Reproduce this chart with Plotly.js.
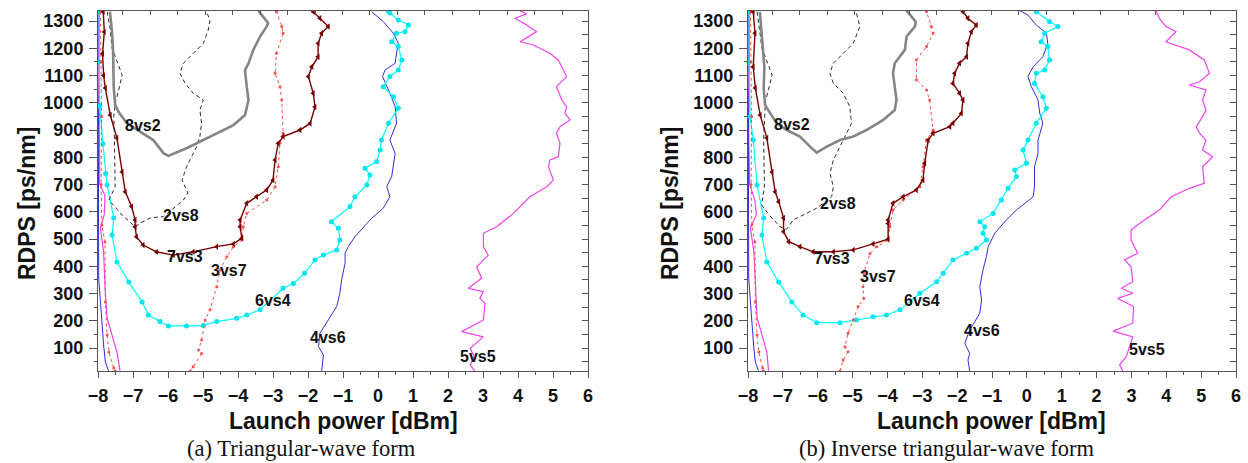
<!DOCTYPE html>
<html>
<head>
<meta charset="utf-8">
<script src="https://cdn.plot.ly/plotly-3.0.1.min.js"></script>
<style>html,body{margin:0;padding:0;background:#fff;}#chart{width:1248px;height:463px;}</style>
</head>
<body>
<div id="chart"></div>
<script>
// ---------- Panel (a): Triangular-wave form ----------
const a_8vs2_x = [-7.66,-7.62,-7.6,-7.57,-7.55,-7.52,-7.51,-7.41,-7.18,-6.8,-6.42,-6.13,-5.99,-5.47,-5.09,-4.61,-4.13,-3.8,-3.7,-3.75,-3.8,-3.7,-3.56,-3.37,-3.18,-3.14,-3.28,-3.42];
const a_8vs2_y = [1334,1290,1260,1194,1054,1010,992,966,926,894,863,815,805,833,857,888,918,955,1010,1059,1120,1145,1194,1243,1280,1293,1317,1338];

const a_2vs8_x = [-7.74,-7.65,-7.6,-7.45,-7.31,-7.42,-7.5,-7.55,-7.53,-7.51,-7.69,-7.31,-6.93,-6.79,-6.51,-6.32,-6.13,-5.56,-5.43,-5.6,-5.47,-5.18,-5.09,-5.04,-5.09,-4.99,-5.28,-5.51,-5.66,-5.56,-5.28,-4.99,-4.85,-4.8,-4.9];
const a_2vs8_y = [1334,1270,1201,1150,1102,1040,1004,950,870,690,643,588,544,559,577,580,582,643,669,716,765,839,876,925,973,1010,1035,1071,1108,1145,1182,1218,1267,1304,1334];

const a_7vs3_x = [-7.85,-7.82,-7.87,-7.84,-7.79,-7.65,-7.46,-7.31,-7.22,-7.04,-6.94,-6.94,-6.9,-6.71,-6.33,-5.85,-5.28,-4.61,-4.13,-3.89,-3.94,-3.94,-3.75,-3.47,-3.18,-3.0,-2.94,-2.85,-2.71,-2.23,-1.94,-1.8,-1.85,-1.99,-1.89,-1.71,-1.71,-1.61,-1.42,-1.66,-1.85];
const a_7vs3_y = [1334,1260,1180,1100,1054,955,871,746,673,619,570,545,508,478,453,441,453,472,482,503,545,570,631,655,680,716,790,851,876,900,924,985,1035,1096,1132,1169,1218,1255,1280,1310,1334];

const a_3vs7_left_x = [-7.93,-7.92,-7.9,-7.91,-7.89,-7.8,-7.79,-7.74,-7.69,-7.55,-7.51];
const a_3vs7_left_y = [1334,1150,950,700,551,489,269,148,85,27,16];
const a_3vs7_right_x = [-5.37,-5.28,-5.04,-5.13,-5.04,-4.94,-4.8,-4.61,-4.51,-4.32,-4.13,-3.89,-3.85,-3.75,-3.18,-2.94,-2.85,-2.8,-2.71,-2.75,-2.8,-2.94,-2.9,-2.71,-2.75,-2.9];
const a_3vs7_right_y = [16,31,80,93,129,203,240,325,386,435,472,496,545,594,643,692,765,851,888,1010,1059,1108,1182,1255,1280,1334];

const a_6vs4_x = [-7.97,-7.97,-7.95,-7.86,-7.78,-7.74,-7.55,-7.6,-7.46,-7.12,-6.74,-6.56,-6.23,-5.99,-5.47,-4.99,-4.61,-4.04,-3.75,-3.37,-2.71,-2.42,-2.1,-1.8,-1.56,-1.18,-1.09,-1.13,-1.33,-0.8,-0.66,-0.32,-0.23,-0.37,-0.04,0.06,0.1,0.3,0.58,0.44,0.15,0.34,0.58,0.68,0.58,0.39,0.53,0.77,0.87,0.58,0.34,0.29];
const a_6vs4_y = [1334,1150,990,850,740,698,577,515,416,342,269,221,197,181,181,183,197,209,221,240,319,337,374,423,441,460,496,539,563,619,655,698,735,760,784,827,863,925,980,1022,1059,1096,1120,1157,1206,1224,1255,1261,1285,1304,1329,1337];

const a_4vs6_left_x = [-7.97,-7.96,-7.99,-7.99,-7.98,-7.93,-7.89,-7.84,-7.79,-7.7];
const a_4vs6_left_y = [1334,1100,900,600,357,269,184,111,49,16];
const a_4vs6_right_x = [-1.61,-1.56,-1.7,-1.66,-1.42,-1.18,-1.09,-1.04,-0.94,-0.94,-0.85,-0.66,-0.32,-0.18,0.15,0.34,0.25,0.39,0.49,0.34,0.53,0.49,0.3,0.13,0.2,0.49,0.53,0.58,0.44,0.15,-0.18];
const a_4vs6_right_y = [16,74,105,154,203,252,301,350,411,448,472,508,557,576,613,655,692,729,814,863,925,986,1047,1096,1120,1145,1182,1218,1255,1298,1334];

const a_5vs5_left_x = [-7.99,-7.98,-7.97,-7.95,-7.8,-7.82,-7.93,-7.84,-7.8,-7.74,-7.6,-7.46,-7.37];
const a_5vs5_left_y = [1334,1000,870,700,660,590,540,452,325,210,148,85,16];
const a_5vs5_right_x = [2.77,2.63,2.75,2.63,3.01,2.39,3.01,3.06,2.91,3.01,2.58,2.96,2.82,3.15,3.01,3.01,3.39,3.87,4.34,4.82,5.01,4.87,4.91,5.15,5.2,5.1,5.2,5.49,5.34,5.39,5.25,5.15,5.1,5.39,5.15,4.91,4.44,4.06,4.53,4.25,3.91,4.25,4.06];
const a_5vs5_right_y = [16,38,70,99,141,160,203,264,282,307,319,356,398,441,472,521,545,594,655,692,716,765,790,802,851,888,912,937,961,986,1010,1047,1059,1096,1157,1182,1212,1224,1261,1285,1310,1326,1338];

// ---------- Panel (b): Inverse triangular-wave form ----------
const b_8vs2_x = [-7.66,-7.61,-7.53,-7.55,-7.51,-7.42,-7.18,-6.89,-6.51,-6.22,-6.03,-5.74,-5.36,-4.98,-4.6,-4.12,-3.79,-3.74,-3.79,-3.84,-3.79,-3.5,-3.45,-3.21,-3.19,-3.36,-3.45];
const b_8vs2_y = [1334,1255,1132,1054,992,973,925,900,876,839,817,839,863,876,900,937,973,1010,1059,1108,1145,1194,1243,1280,1298,1322,1338];

const b_2vs8_x = [-7.74,-7.6,-7.31,-7.5,-7.55,-7.53,-7.61,-7.37,-7.08,-6.9,-6.7,-6.32,-6.03,-5.6,-5.55,-5.65,-5.55,-5.36,-5.17,-5.03,-5.08,-5.27,-5.55,-5.65,-5.55,-5.27,-4.98,-4.79,-4.89];
const b_2vs8_y = [1334,1201,1102,1004,870,690,625,585,545,535,570,594,613,655,692,741,790,839,888,925,986,1035,1071,1108,1145,1182,1218,1280,1329];

const b_7vs3_x = [-7.85,-7.8,-7.85,-7.79,-7.65,-7.46,-7.31,-7.22,-7.12,-6.98,-6.98,-6.83,-6.51,-6.13,-5.55,-4.98,-4.41,-3.98,-3.98,-3.98,-3.84,-3.55,-3.17,-2.98,-2.93,-2.83,-2.69,-2.21,-2.12,-1.88,-1.83,-1.93,-2.12,-2.07,-1.93,-1.73,-1.69,-1.59,-1.45,-1.69,-1.83];
const b_7vs3_y = [1334,1255,1132,1054,955,871,746,673,637,577,527,490,472,453,453,460,482,499,557,570,631,655,680,716,778,863,888,912,925,961,1010,1035,1071,1108,1145,1169,1218,1261,1285,1310,1334];

const b_3vs7_left_x = [-7.93,-7.92,-7.9,-7.91,-7.89,-7.8,-7.79,-7.74,-7.69,-7.58,-7.56];
const b_3vs7_left_y = [1334,1150,950,700,551,489,269,148,85,27,16];
const b_3vs7_right_x = [-5.36,-5.27,-5.13,-5.22,-5.13,-4.98,-4.84,-4.68,-4.7,-4.68,-4.5,-4.31,-3.98,-3.93,-3.84,-3.55,-3.07,-2.98,-2.88,-2.69,-2.79,-2.88,-3.17,-3.17,-2.88,-2.69,-2.74,-2.88];
const b_3vs7_right_y = [16,56,86,105,154,203,252,282,325,374,447,472,496,545,606,643,692,765,863,900,1010,1047,1084,1157,1206,1255,1280,1334];

const b_6vs4_x = [-7.97,-7.97,-7.94,-7.85,-7.74,-7.55,-7.6,-7.46,-7.12,-6.74,-6.42,-6.03,-5.36,-4.89,-4.41,-4.03,-3.64,-3.07,-2.59,-2.4,-2.12,-1.73,-1.45,-1.16,-1.26,-1.21,-1.35,-0.97,-0.73,-0.54,-0.3,-0.35,-0.01,-0.11,0.03,0.27,0.56,0.46,0.22,0.27,0.51,0.65,0.6,0.41,0.51,0.89,0.65,0.27];
const b_6vs4_y = [1334,1150,949,863,698,577,515,416,342,269,221,193,193,203,215,221,240,301,343,374,423,448,466,496,521,545,563,594,643,686,729,753,778,827,863,925,980,1022,1071,1108,1120,1157,1206,1224,1255,1280,1298,1334];

const b_4vs6_left_x = [-7.97,-7.96,-7.99,-7.99,-7.98,-7.93,-7.89,-7.84,-7.79,-7.7];
const b_4vs6_left_y = [1334,1100,900,600,357,269,184,111,49,16];
const b_4vs6_right_x = [-1.64,-1.69,-1.64,-1.78,-1.64,-1.35,-1.3,-1.35,-1.26,-1.16,-1.11,-0.92,-0.59,-0.3,0.18,0.22,0.22,0.32,0.32,0.46,0.37,0.32,0.13,0.03,0.18,0.46,0.6,0.56,0.27,0.03,-0.21];
const b_4vs6_right_y = [16,56,80,117,166,227,276,325,386,435,472,521,570,606,655,692,765,814,863,925,961,1010,1059,1096,1132,1169,1218,1255,1285,1322,1338];

const b_5vs5_left_x = [-7.99,-7.98,-7.98,-7.95,-7.8,-7.76,-7.93,-7.83,-7.78,-7.74,-7.6,-7.46,-7.41];
const b_5vs5_left_y = [1334,1000,870,700,640,590,540,452,325,210,148,85,16];
const b_5vs5_right_x = [2.75,2.66,2.85,2.95,3.04,2.47,3.04,3.06,2.61,3.04,2.71,3.04,2.99,2.8,3.18,2.99,2.99,3.23,3.8,4.14,4.66,5.09,5.04,5.24,5.33,5.04,5.14,4.95,4.86,5.04,5.14,5.04,5.14,4.66,4.95,5.24,5.09,4.66,4.38,3.99,4.28,3.99,3.8,3.71];
const b_5vs5_right_y = [16,38,68,105,141,162,191,252,282,301,319,343,398,423,448,496,533,557,606,655,686,704,765,790,802,827,863,888,912,949,973,1010,1047,1065,1077,1108,1157,1194,1206,1224,1261,1280,1310,1338];

// curve labels
const curveNames = ['8vs2','2vs8','7vs3','3vs7','6vs4','4vs6','5vs5'];
const a_label_x = [-6.71,-5.63,-5.51,-4.27,-3.0,-1.43,2.86];
const a_label_y = [918,588,435,386,276,137,68];
const b_label_x = [-6.74,-5.42,-5.59,-4.28,-3.01,-1.3,3.46];
const b_label_y = [922,632,430,364,276,166,96];

const panelCaptions = ['(a) Triangular-wave form','(b) Inverse triangular-wave form'];
const xTitle = 'Launch power [dBm]';
const yTitle = 'RDPS [ps/nm]';

// ---------- styles ----------
const styles = {
  '8vs2': {mode:'lines', line:{color:'#858585', width:2.6}},
  '2vs8': {mode:'lines', line:{color:'#2a2a2a', width:1, dash:'4px,3px'}},
  '7vs3': {mode:'lines+markers', line:{color:'#7a0000', width:1.4}, marker:{symbol:'triangle-left', size:5.5, color:'#7a0000'}},
  '3vs7': {mode:'lines+markers', line:{color:'#ff4a4a', width:1, dash:'dot'}, marker:{symbol:'circle', size:3, color:'#ff5050'}},
  '6vs4': {mode:'lines+markers', line:{color:'#00ffff', width:1.2}, marker:{symbol:'circle', size:5, color:'#00e6ee'}},
  '4vs6': {mode:'lines', line:{color:'#2f2fd0', width:1}},
  '5vs5': {mode:'lines', line:{color:'#ee44ee', width:1.2}}
};

function join(lx, ly, rx, ry){ return [lx.concat([null], rx), ly.concat([null], ry)]; }

function panelTraces(p, xa, ya){
  const curves = {
    '8vs2': [p._8vs2_x, p._8vs2_y],
    '2vs8': [p._2vs8_x, p._2vs8_y],
    '7vs3': [p._7vs3_x, p._7vs3_y],
    '3vs7': join(p._3vs7_lx, p._3vs7_ly, p._3vs7_rx, p._3vs7_ry),
    '6vs4': [p._6vs4_x, p._6vs4_y],
    '4vs6': join(p._4vs6_lx, p._4vs6_ly, p._4vs6_rx, p._4vs6_ry),
    '5vs5': join(p._5vs5_lx, p._5vs5_ly, p._5vs5_rx, p._5vs5_ry)
  };
  const order = ['5vs5','4vs6','6vs4','3vs7','7vs3','2vs8','8vs2'];
  return order.map(n => Object.assign({
    type:'scatter', x:curves[n][0], y:curves[n][1], xaxis:xa, yaxis:ya,
    name:n, showlegend:false, hoverinfo:'skip', connectgaps:false
  }, JSON.parse(JSON.stringify(styles[n]))));
}

const pa = {_8vs2_x:a_8vs2_x,_8vs2_y:a_8vs2_y,_2vs8_x:a_2vs8_x,_2vs8_y:a_2vs8_y,_7vs3_x:a_7vs3_x,_7vs3_y:a_7vs3_y,
  _3vs7_lx:a_3vs7_left_x,_3vs7_ly:a_3vs7_left_y,_3vs7_rx:a_3vs7_right_x,_3vs7_ry:a_3vs7_right_y,
  _6vs4_x:a_6vs4_x,_6vs4_y:a_6vs4_y,
  _4vs6_lx:a_4vs6_left_x,_4vs6_ly:a_4vs6_left_y,_4vs6_rx:a_4vs6_right_x,_4vs6_ry:a_4vs6_right_y,
  _5vs5_lx:a_5vs5_left_x,_5vs5_ly:a_5vs5_left_y,_5vs5_rx:a_5vs5_right_x,_5vs5_ry:a_5vs5_right_y};
const pb = {_8vs2_x:b_8vs2_x,_8vs2_y:b_8vs2_y,_2vs8_x:b_2vs8_x,_2vs8_y:b_2vs8_y,_7vs3_x:b_7vs3_x,_7vs3_y:b_7vs3_y,
  _3vs7_lx:b_3vs7_left_x,_3vs7_ly:b_3vs7_left_y,_3vs7_rx:b_3vs7_right_x,_3vs7_ry:b_3vs7_right_y,
  _6vs4_x:b_6vs4_x,_6vs4_y:b_6vs4_y,
  _4vs6_lx:b_4vs6_left_x,_4vs6_ly:b_4vs6_left_y,_4vs6_rx:b_4vs6_right_x,_4vs6_ry:b_4vs6_right_y,
  _5vs5_lx:b_5vs5_left_x,_5vs5_ly:b_5vs5_left_y,_5vs5_rx:b_5vs5_right_x,_5vs5_ry:b_5vs5_right_y};

const traces = panelTraces(pa,'x','y').concat(panelTraces(pb,'x2','y2'));
// carriers for the mirrored frame axes
traces.push({type:'scatter', x:[], y:[], xaxis:'x3', yaxis:'y3', showlegend:false, hoverinfo:'skip'});
traces.push({type:'scatter', x:[], y:[], xaxis:'x4', yaxis:'y4', showlegend:false, hoverinfo:'skip'});

const W = 1248, H = 463;
const XR = [-8, 6], YR = [15.6, 1336.7];
const yDom = [1 - 371/H, 1 - 11/H];
const axCol = '#555';
const tickFont = {family:'Liberation Sans, Arial, sans-serif', size:18, color:'#111', weight:'bold'};

function xAxis(dom, anchor){
  return {domain:dom, anchor:anchor, range:XR, tick0:0, dtick:1, ticks:'outside', ticklen:6, tickwidth:1, tickcolor:axCol,
    minor:{ticks:'outside', ticklen:3, dtick:0.5, tickcolor:axCol},
    showline:true, linecolor:axCol, linewidth:1, showgrid:false, zeroline:false, tickfont:tickFont, ticklabelstandoff:2, fixedrange:true};
}
function yAxis(anchor){
  return {domain:yDom, anchor:anchor, range:YR, tick0:0, dtick:100, ticks:'outside', ticklen:8, tickwidth:1, tickcolor:axCol,
    minor:{ticks:'outside', ticklen:3, dtick:50, tickcolor:axCol},
    showline:true, linecolor:axCol, linewidth:1, showgrid:false, zeroline:false, tickfont:tickFont, ticklabelstandoff:2, fixedrange:true};
}
function topAxis(over, anchor){
  return {overlaying:over, anchor:anchor, side:'top', range:XR, tick0:-1.8, dtick:0.785, ticks:'inside', ticklen:4, tickcolor:axCol,
    showticklabels:false, showline:true, linecolor:axCol, linewidth:1, showgrid:false, zeroline:false, fixedrange:true};
}
function rightAxis(over, anchor){
  return {overlaying:over, anchor:anchor, side:'right', range:YR, tick0:0, dtick:50, ticks:'inside', ticklen:6, tickcolor:axCol,
    showticklabels:false, showline:true, linecolor:axCol, linewidth:1, showgrid:false, zeroline:false, fixedrange:true};
}

const labelFont = {family:'Liberation Sans, Arial, sans-serif', size:16, color:'#111', weight:'bold'};
const annotations = [];
curveNames.forEach((n,i) => {
  annotations.push({xref:'x', yref:'y', x:a_label_x[i], y:a_label_y[i], text:n, showarrow:false, font:labelFont});
  annotations.push({xref:'x2', yref:'y2', x:b_label_x[i], y:b_label_y[i], text:n, showarrow:false, font:labelFont});
});
const titleFont = {family:'Liberation Sans, Arial, sans-serif', size:23, color:'#111', weight:'bold'};
const capFont = {family:'Liberation Serif, Times New Roman, serif', size:22.5, color:'#111'};
[[343, 27, 301], [992, 670, 947]].forEach((c, i) => {
  annotations.push({xref:'paper', yref:'paper', x:c[0]/W, y:1-421/H, text:xTitle, showarrow:false, font:titleFont, xanchor:'center', yanchor:'middle'});
  annotations.push({xref:'paper', yref:'paper', x:c[1]/W, y:1-204/H, text:yTitle, showarrow:false, font:titleFont, textangle:-90, xanchor:'center', yanchor:'middle'});
  annotations.push({xref:'paper', yref:'paper', x:c[2]/W, y:1-448/H, text:panelCaptions[i], showarrow:false, font:capFont, xanchor:'center', yanchor:'middle'});
});

const layout = {
  width:W, height:H, margin:{l:0, r:0, t:0, b:0}, paper_bgcolor:'#fff', plot_bgcolor:'#fff', showlegend:false,
  xaxis: xAxis([98/W, 588/W], 'y'),
  yaxis: yAxis('x'),
  xaxis2: xAxis([748/W, 1236/W], 'y2'),
  yaxis2: yAxis('x2'),
  xaxis3: topAxis('x', 'y'),
  yaxis3: rightAxis('y', 'x'),
  xaxis4: topAxis('x2', 'y2'),
  yaxis4: rightAxis('y2', 'x2'),
  annotations: annotations
};

Plotly.newPlot('chart', traces, layout, {staticPlot:true, displayModeBar:false});
</script>
</body>
</html>
